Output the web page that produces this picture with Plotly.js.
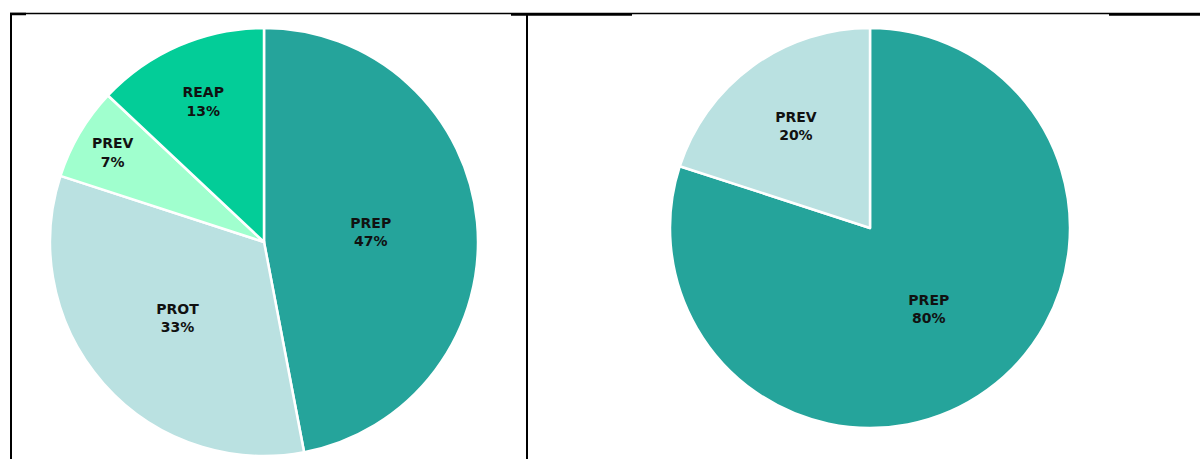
<!DOCTYPE html>
<html><head><meta charset="utf-8">
<script src="https://cdn.plot.ly/plotly-3.0.1.min.js"></script>
<style>html,body{margin:0;padding:0;background:#fff}#chart{width:1200px;height:459px}</style>
</head><body><div id="chart"></div>
<script>
const leftLabels = ["PREP", "PROT", "PREV", "REAP"];
const leftValues = [47, 33, 7, 13];
const leftColors = ["#25A49B", "#BAE1E1", "#A0FFCE", "#03CD98"];
const rightLabels = ["PREP", "PREV"];
const rightValues = [80, 20];
const rightColors = ["#25A49B", "#BAE1E1"];

const H = 459, W = 1200;
const py = v => (H - v) / H;
const px = v => v / W;

const fnt = {family: "DejaVu Sans, Verdana, sans-serif", size: 14, color: "#111"};
const common = {
  type: "pie", sort: false, direction: "clockwise", rotation: 0,
  textinfo: "text", textposition: "inside", insidetextorientation: "horizontal",
  texttemplate: "<b>%{label}<br>%{percent:.0%}</b>",
  textfont: fnt, insidetextfont: fnt,
  showlegend: false, hoverinfo: "none"
};

const traces = [
  Object.assign({}, common, {
    labels: leftLabels, values: leftValues,
    marker: {colors: leftColors, line: {color: "#fff", width: 2.5}},
    domain: {x: [px(50), px(478)], y: [py(456), py(28)]}
  }),
  Object.assign({}, common, {
    labels: rightLabels, values: rightValues,
    marker: {colors: rightColors, line: {color: "#fff", width: 2.5}},
    domain: {x: [px(670), px(1070)], y: [py(428), py(28)]}
  })
];

const ln = (x0, y0, x1, y1, w) => ({type: "line", xref: "paper", yref: "paper",
  x0: px(x0), y0: py(y0), x1: px(x1), y1: py(y1), line: {color: "#000", width: w}});

const layout = {
  width: W, height: H, margin: {l: 0, r: 0, t: 0, b: 0},
  paper_bgcolor: "#fff", plot_bgcolor: "#fff",
  shapes: [
    ln(10, 13.5, 1200, 13.5, 1.3),
    ln(10, 14, 26, 14, 2.5),
    ln(511, 14.5, 632, 14.5, 2.5),
    ln(1109, 14.5, 1200, 14.5, 2.5),
    ln(11, 14, 11, 459, 2),
    ln(527, 14, 527, 459, 2)
  ]
};

Plotly.newPlot("chart", traces, layout, {staticPlot: true, displayModeBar: false});
</script></body></html>
